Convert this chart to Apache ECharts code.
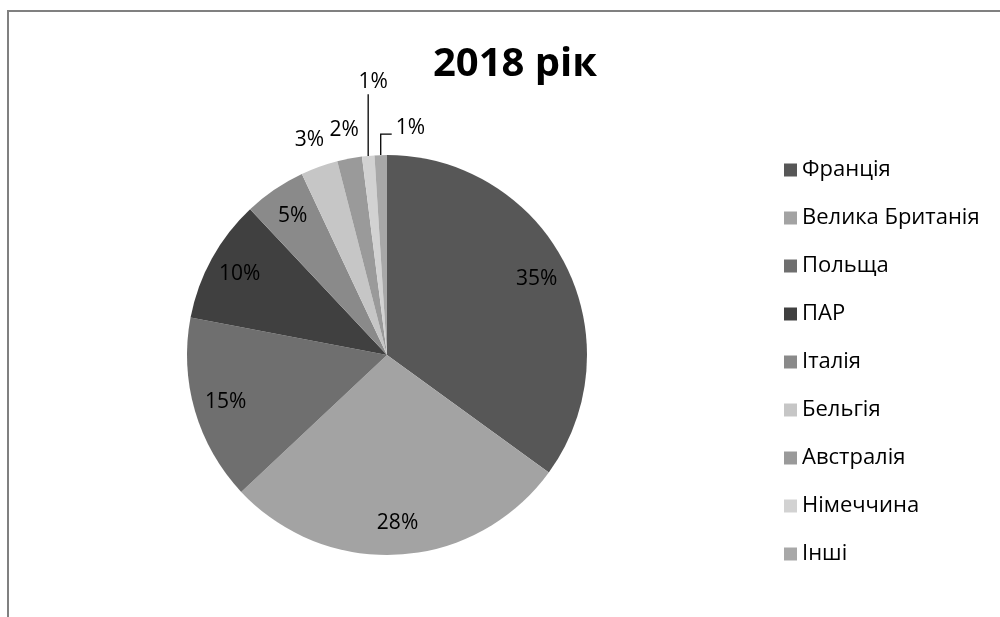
<!DOCTYPE html>
<html>
<head>
<meta charset="utf-8">
<script src="https://cdn.jsdelivr.net/npm/echarts@6/dist/echarts.min.js"></script>
<style>
  html, body { margin: 0; padding: 0; background: #ffffff; }
  #chart { width: 1000px; height: 617px; }
</style>
</head>
<body>
<div id="chart"></div>
<script>
// ---- Data ----
const titleText = '2018 рік';
const categories = ['Франція', 'Велика Британія', 'Польща', 'ПАР', 'Італія', 'Бельгія', 'Австралія', 'Німеччина', 'Інші'];
const shares = [35, 28, 15, 10, 5, 3, 2, 1, 1];

// ---- Styles ----
const colors = ['#575757', '#a3a3a3', '#6f6f6f', '#404040', '#8a8a8a', '#c6c6c6', '#9a9a9a', '#d2d2d2', '#a8a8a8'];
const innerLabelIdx = [0, 1, 2, 3, 4];
const outerPlainIdx = [5, 6];
const leaderIdx = [7, 8];
const FONT = '"Open Sans", "Noto Sans", sans-serif';
const center = [387, 355];
const R = 200;

const chart = echarts.init(document.getElementById('chart'), null, { renderer: 'canvas' });

const labelStyle = { color: '#000', fontFamily: FONT, fontSize: 21 };

const mainData = categories.map((name, i) => {
  const item = { name: name, value: shares[i], itemStyle: { color: colors[i] } };
  if (leaderIdx.indexOf(i) >= 0) {
    item.label = Object.assign({ show: true, position: 'outside', formatter: '{c}%', distanceToLabelLine: 0 }, labelStyle);
    item.labelLine = { show: true, length: i === 7 ? 62 : 21, length2: 0, lineStyle: { color: '#000', width: 1.3 } };
  } else {
    item.label = { show: false };
    item.labelLine = { show: false };
  }
  return item;
});

function helperData(showIdx) {
  return categories.map((name, i) => ({
    name: name,
    value: shares[i],
    itemStyle: { color: 'rgba(0,0,0,0)' },
    label: showIdx.indexOf(i) >= 0
      ? Object.assign({ show: true, position: 'inside', formatter: '{c}%' }, labelStyle)
      : { show: false }
  }));
}

const option = {
  backgroundColor: '#ffffff',
  animation: false,
  title: {
    text: titleText,
    left: 510,
    top: 40,
    textAlign: 'center',
    textStyle: { fontFamily: FONT, fontSize: 40, fontWeight: 'bold', color: '#000' }
  },
  legend: {
    orient: 'vertical',
    left: 779,
    top: 154,
    icon: 'rect',
    itemWidth: 13,
    itemHeight: 13,
    itemGap: 26,
    data: categories,
    selectedMode: false,
    textStyle: { fontFamily: FONT, fontSize: 22, lineHeight: 22, color: '#000' }
  },
  graphic: [{
    type: 'rect',
    silent: true,
    shape: { x: 8, y: 11, width: 1100, height: 700 },
    style: { fill: 'none', stroke: '#808080', lineWidth: 2 }
  }],
  series: [
    {
      name: 'main',
      type: 'pie',
      center: center,
      radius: [0, R],
      startAngle: 90,
      clockwise: true,
      avoidLabelOverlap: false,
      label: { show: false },
      labelLine: { show: false },
      emphasis: { disabled: true },
      data: mainData,
      labelLayout: function (params) {
        const p = params.labelLinePoints;
        if (!p) return {};
        const x0 = p[0][0];
        const yTop = p[1][1];
        if (params.dataIndex === 7) {
          return {
            labelLinePoints: [[x0, p[0][1]], [x0, yTop], [x0, yTop]],
            x: x0 + 5, y: yTop - 2, align: 'center', verticalAlign: 'bottom'
          };
        }
        if (params.dataIndex === 8) {
          return {
            labelLinePoints: [[x0, p[0][1]], [x0, yTop], [x0 + 11, yTop]],
            x: x0 + 15, y: yTop - 6, align: 'left', verticalAlign: 'middle'
          };
        }
        return {};
      }
    },
    {
      name: 'innerLabels',
      type: 'pie',
      center: center,
      radius: [130, R],
      startAngle: 90,
      clockwise: true,
      silent: true,
      avoidLabelOverlap: false,
      labelLine: { show: false },
      emphasis: { disabled: true },
      data: helperData(innerLabelIdx)
    },
    {
      name: 'outerLabels',
      type: 'pie',
      center: center,
      radius: [R, 252],
      startAngle: 90,
      clockwise: true,
      silent: true,
      avoidLabelOverlap: false,
      labelLine: { show: false },
      emphasis: { disabled: true },
      data: helperData(outerPlainIdx)
    }
  ]
};

chart.setOption(option);
</script>
</body>
</html>
